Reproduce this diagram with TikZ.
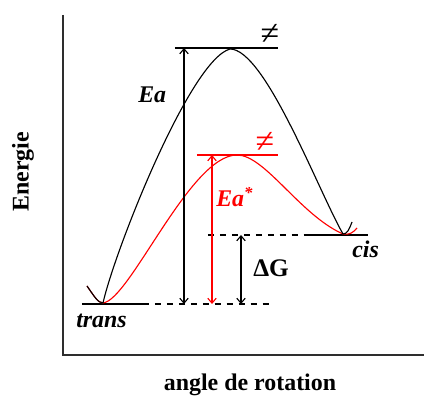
\documentclass[tikz,border=0pt]{standalone}
\usepackage{fontspec}
\setmainfont{Liberation Serif}
\usetikzlibrary{arrows.meta}
\definecolor{ink}{HTML}{000000}
\definecolor{axisgray}{HTML}{2E2E2E}
\definecolor{catal}{HTML}{FF0000}
\tikzset{
  font=\bfseries\fontsize{17}{19}\selectfont,
  >={Straight Barb[length=3.5pt, width=6pt]},
  %
  axisline/.style={draw=axisgray, line width=1.5pt},
  level/.style={draw=ink, line width=0.8pt},
  guide/.style={draw=ink, line width=0.8pt, dash pattern=on 4.5pt off 4pt},
  profile/.style={draw=ink, line width=0.8pt},
  gap/.style={<->, draw=ink, line width=0.8pt},
  %
  lbl/.style={font=\bfseries\itshape\fontsize{17}{19}\selectfont, inner sep=0pt},
  ttl/.style={font=\bfseries\fontsize{17}{19}\selectfont, inner sep=0pt},
  ts/.style={font=\fontsize{24}{26}\selectfont, inner sep=0pt},
}

\begin{document}
\begin{tikzpicture}[x=0.025cm, y=-0.025cm]
  \useasboundingbox (0,0) rectangle (424,400);

  % ---- axis -------------------------------------------------------------
  \draw[axisline] (63,15) -- (63,355) -- (424,355);
  \node[ttl, rotate=90] (yname) at (23,172) {Energie};
  \node[ttl] (xname) at (250,385) {angle de rotation};

  % ---- levels -----------------------------------------------------------
  \coordinate (transL) at (82,304);
  \coordinate (transR) at (143,304);
  \coordinate (transE) at (274,304);
  \coordinate (topL)   at (175,48);
  \coordinate (topR)   at (278,48);
  \coordinate (redL)   at (197,155);
  \coordinate (redR)   at (278,155);
  \coordinate (cisD)   at (208,235);
  \coordinate (cisL)   at (306,235);
  \coordinate (cisR)   at (368,235);

  \draw[level] (transL) -- (transR);
  \draw[guide] (transR) -- (transE);
  \draw[level] (topL) -- (topR);
  \draw[level, draw=catal] (redL) -- (redR);
  \draw[guide] (cisD) -- (cisL);
  \draw[level] (cisL) -- (cisR);

  % ---- profiles ---------------------------------------------------------
  \coordinate (start)  at (87,286);
  \coordinate (trMin)  at (103,303);
  \coordinate (cisMin) at (343,234);
  \coordinate (peakA)  at (230,49);
  \coordinate (peakB)  at (237,155);

  % catalysed
  \draw[profile, draw=catal] (start) .. controls (94,296) and (98,303) .. (trMin)
    .. controls (130,300) and (190,155) .. (peakB)
    .. controls (265,155) and (300,215) .. (cisMin)
    .. controls (349,235) and (353,233) .. (357,228);
  % uncatalysed
  \draw[profile] (start) .. controls (94,296) and (98,303) .. (trMin)
    .. controls (115,250) and (190,60) .. (peakA)
    .. controls (265,49) and (318,190) .. (cisMin)
    .. controls (347,234) and (349,230) .. (352,222);

  % ---- gaps -------------------------------------------------------------
  \coordinate (eaTop)  at (184,48);
  \coordinate (eaBot)  at (184,304);
  \coordinate (ecTop)  at (212,155);
  \coordinate (ecBot)  at (212,304);
  \coordinate (dgTop)  at (241,235);
  \coordinate (dgBot)  at (241,304);

  \draw[gap] (eaTop) -- (eaBot);
  \draw[gap, draw=catal] (ecTop) -- (ecBot);
  \draw[gap] (dgTop) -- (dgBot);

  % ---- labels -----------------------------------------------------------
  \node[ts] (tsA) at (270,34) {≠};
  \node[ts, text=catal] (tsB) at (265,142) {≠};
  \node[lbl, anchor=base west] (ea) at (138,103) {Ea};
  \node[lbl, anchor=base west, text=catal] (eacat) at (216,207) {Ea\textsuperscript{*}};
  \node[ttl, anchor=base west, font=\bfseries\fontsize{18}{20}\selectfont] (dg) at (253,277) {ΔG};
  \node[lbl, anchor=base west] (cis) at (352,258) {cis};
  \node[lbl, anchor=base west] (trans) at (76,328) {trans};

\end{tikzpicture}
\end{document}
